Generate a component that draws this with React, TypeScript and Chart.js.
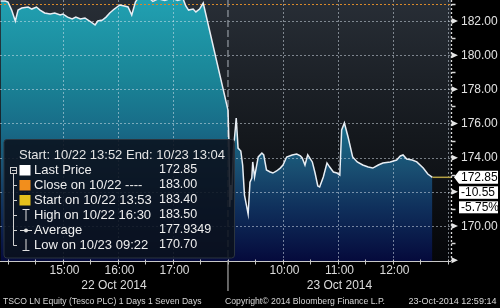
import React, { useEffect, useRef } from 'react';
import { Chart, registerables } from 'chart.js';

Chart.register(...registerables);

// ---------- data ----------
const dayOneTimes = [
  '13:52', '13:57', '14:00', '14:04', '14:08', '14:11', '14:15', '14:22', '14:26', '14:31',
  '14:35', '14:40', '14:46', '14:51', '14:57', '15:00', '15:05', '15:10', '15:14', '15:19',
  '15:24', '15:29', '15:35', '15:38', '15:43', '15:47', '15:51', '15:56', '15:59', '16:02',
  '16:07', '16:11', '16:15', '16:19', '16:22', '16:29', '16:35', '16:38', '16:44', '16:51',
  '16:59', '17:05', '17:11', '17:14', '17:17', '17:22', '17:25', '17:29', '17:33',
];
const dayOnePrices = [
  183.17, 183.17, 183.11, 182.64, 182.0, 182.64, 182.76, 182.82, 182.7, 182.82,
  182.64, 182.47, 182.41, 182.47, 182.35, 182.41, 182.23, 182.12, 182.23, 182.12,
  182.18, 182.0, 181.77, 182.0, 182.06, 182.23, 182.47, 182.7, 182.82, 182.94,
  182.88, 182.82, 182.35, 183.11, 183.35, 183.5, 183.3, 183.15, 183.3, 183.2,
  183.35, 183.2, 183.3, 182.88, 182.64, 182.7, 182.53, 182.7, 183.05,
];
const dayTwoTimes = [
  '09:00', '09:01', '09:02', '09:03', '09:04', '09:06', '09:09', '09:11', '09:14', '09:16',
  '09:18', '09:22', '09:24', '09:26', '09:27', '09:29', '09:33', '09:37', '09:39', '09:42',
  '09:46', '09:49', '09:53', '09:57', '10:00', '10:04', '10:10', '10:15', '10:19', '10:21',
  '10:24', '10:27', '10:32', '10:35', '10:38', '10:40', '10:44', '10:48', '10:51', '10:55',
  '10:59', '11:02', '11:04', '11:07', '11:11', '11:16', '11:21', '11:27', '11:33', '11:38',
  '11:44', '11:49', '11:57', '12:04', '12:08', '12:11', '12:15', '12:21', '12:26', '12:33',
  '12:38', '12:43',
];
const dayTwoPrices = [
  176.79, 175.03, 171.11, 172.4, 171.52, 174.45, 176.32, 174.56, 174.39, 173.57,
  171.81, 170.7, 172.57, 172.81, 173.75, 172.87, 174.04, 174.27, 174.16, 173.28,
  173.16, 173.1, 173.22, 173.39, 173.57, 174.04, 174.16, 174.21, 174.1, 173.98,
  173.57, 174.16, 173.75, 173.1, 172.34, 172.28, 172.87, 173.69, 173.45, 173.16,
  173.1, 172.98, 175.62, 176.03, 175.21, 174.04, 173.75, 173.57, 173.45, 173.39,
  173.57, 173.69, 173.75, 173.86, 174.1, 174.16, 173.92, 173.86, 173.75, 173.39,
  173.04, 172.85,
];

const dayOneHourLabels = ['15:00', '16:00', '17:00'];
const dayTwoHourLabels = ['10:00', '11:00', '12:00'];
const dayTwoExtraGrid = ['13:00'];
const dateLabels = ['22 Oct 2014', '23 Oct 2014'];

const yMajorTicks = [182, 180, 178, 176, 174, 172, 170, 168];
const yHiddenLabels = [172];
const yMinorTicks = [183, 181, 179, 177, 175, 173, 171, 169];

const closePrice = 183.0;
const lastPrice = 172.85;
const netChange = '-10.55';
const pctChange = '-5.75%';

const legendHeader = 'Start: 10/22 13:52 End: 10/23 13:04';
const legendLabels = [
  'Last Price',
  'Close on 10/22 ----',
  'Start on 10/22 13:53',
  'High on 10/22 16:30',
  'Average',
  'Low on 10/23 09:22',
];
const legendValues = ['172.85', '183.00', '183.40', '183.50', '177.9349', '170.70'];

const footerLeft = 'TSCO LN Equity (Tesco PLC) 1 Days 1 Seven Days';
const footerMid = 'Copyright\u00A9 2014 Bloomberg Finance L.P.';
const footerRight = '23-Oct-2014 12:59:14';

// ---------- helpers ----------
// compressed session clock: day one measured from 13:00, day two starts at 300 (09:00)
const DAY_ONE_BASE = 13 * 60;
const DAY_TWO_OFFSET = 300;
const DAY_TWO_BASE = 9 * 60;
const mins = (t: string) => {
  const [h, m] = t.split(':').map(Number);
  return h * 60 + m;
};
const xDay1 = (t: string) => mins(t) - DAY_ONE_BASE;
const xDay2 = (t: string) => DAY_TWO_OFFSET + mins(t) - DAY_TWO_BASE;

const X_MIN = 51.3;
const X_MAX = 543.3;
const Y_MIN = 167.95;
const Y_MAX = 183.23;

const FONT = '"Liberation Sans", Arial, sans-serif';

const App: React.FC = () => {
  const ref = useRef<HTMLCanvasElement | null>(null);

  useEffect(() => {
    document.body.style.margin = '0';
    document.body.style.background = '#000';
    const canvas = ref.current;
    if (!canvas) return;

    const points = [
      ...dayOneTimes.map((t, i) => ({ x: xDay1(t), y: dayOnePrices[i] })),
      ...dayTwoTimes.map((t, i) => ({ x: xDay2(t), y: dayTwoPrices[i] })),
    ];

    const dottedV = (ctx: CanvasRenderingContext2D, x: number, y0: number, y1: number) => {
      ctx.beginPath();
      ctx.moveTo(Math.round(x) + 0.5, y0);
      ctx.lineTo(Math.round(x) + 0.5, y1);
      ctx.stroke();
    };
    const dottedH = (ctx: CanvasRenderingContext2D, y: number, x0: number, x1: number) => {
      ctx.beginPath();
      ctx.moveTo(x0, Math.round(y) + 0.5);
      ctx.lineTo(x1, Math.round(y) + 0.5);
      ctx.stroke();
    };

    const plugin = {
      id: 'bbg',
      beforeDraw(chart: any) {
        const { ctx, chartArea: a } = chart;
        ctx.save();
        ctx.fillStyle = '#000';
        ctx.fillRect(0, 0, chart.width, chart.height);
        const g = ctx.createLinearGradient(0, a.top, 0, a.bottom);
        g.addColorStop(0, '#282e36');
        g.addColorStop(0.5, '#15191e');
        g.addColorStop(1, '#050609');
        ctx.fillStyle = g;
        ctx.fillRect(a.left, a.top, a.right - a.left, a.bottom - a.top);
        ctx.restore();
      },
      beforeDatasetDraw(chart: any) {
        const { ctx, chartArea: a, scales } = chart;
        const xs = scales.x;
        const ys = scales.y;
        ctx.save();
        ctx.lineWidth = 1;
        ctx.setLineDash([2, 2]);
        ctx.strokeStyle = 'rgba(220,230,240,0.5)';
        yMajorTicks.forEach((v) => {
          if (v <= Y_MIN + 0.2) return;
          dottedH(ctx, ys.getPixelForValue(v), a.left, a.right);
        });
        const vTicks = [
          ...dayOneHourLabels.map(xDay1),
          ...dayTwoHourLabels.map(xDay2),
          ...dayTwoExtraGrid.map(xDay2),
        ];
        vTicks.forEach((v) => dottedV(ctx, xs.getPixelForValue(v), a.top, a.bottom));
        // close line
        ctx.strokeStyle = '#d9892a';
        dottedH(ctx, ys.getPixelForValue(closePrice), a.left, a.right);
        // day divider
        ctx.setLineDash([7, 3]);
        ctx.strokeStyle = '#8b929a';
        ctx.lineWidth = 1.3;
        const dx = xs.getPixelForValue(DAY_TWO_OFFSET);
        ctx.beginPath();
        ctx.moveTo(dx, a.top);
        ctx.lineTo(dx, a.bottom);
        ctx.stroke();
        ctx.restore();
      },
      afterDraw(chart: any) {
        const { ctx, chartArea: a, scales } = chart;
        const xs = scales.x;
        const ys = scales.y;
        ctx.save();

        // last price line
        const last = points[points.length - 1];
        const ly = ys.getPixelForValue(lastPrice);
        ctx.strokeStyle = '#b3a045';
        ctx.lineWidth = 1.5;
        ctx.beginPath();
        ctx.moveTo(xs.getPixelForValue(last.x), ly);
        ctx.lineTo(a.right, ly);
        ctx.stroke();

        // legend box
        const bx = 4, by = 139.5, bw = 230.5, bh = 118.5;
        ctx.fillStyle = 'rgba(10,17,28,0.88)';
        ctx.strokeStyle = '#2b343e';
        ctx.lineWidth = 1;
        ctx.beginPath();
        (ctx as any).roundRect ? (ctx as any).roundRect(bx, by, bw, bh, 3) : ctx.rect(bx, by, bw, bh);
        ctx.fill();
        ctx.stroke();

        ctx.textBaseline = 'middle';
        ctx.textAlign = 'left';
        ctx.fillStyle = '#e4e4e4';
        ctx.font = `13px ${FONT}`;
        ctx.fillText(legendHeader, 19, 155);
        const rowY = (i: number) => 170 + 15 * i;
        legendLabels.forEach((l, i) => {
          ctx.fillStyle = '#eeeeee';
          ctx.font = `13px ${FONT}`;
          ctx.fillText(l, 34, rowY(i));
          ctx.font = `12.5px ${FONT}`;
          ctx.fillText(legendValues[i], 159, rowY(i));
        });
        // swatches
        const sw = ['#ffffff', '#f28e1c', '#e6c21c'];
        sw.forEach((c, i) => {
          ctx.fillStyle = c;
          ctx.fillRect(19.5, rowY(i) - 5, 11, 10.5);
        });
        // tree
        ctx.strokeStyle = '#d0d0d0';
        ctx.lineWidth = 1;
        ctx.strokeRect(10.5, 167.5, 6, 6);
        ctx.beginPath();
        ctx.moveTo(12, 170.5);
        ctx.lineTo(16, 170.5);
        ctx.moveTo(13.5, 173.5);
        ctx.lineTo(13.5, rowY(5) + 0.5);
        for (let i = 1; i < 6; i++) {
          ctx.moveTo(13.5, Math.round(rowY(i)) + 0.5);
          ctx.lineTo(17, Math.round(rowY(i)) + 0.5);
        }
        ctx.stroke();
        // high icon
        ctx.strokeStyle = '#e0e0e0';
        ctx.beginPath();
        ctx.moveTo(22.5, rowY(3) - 5.5);
        ctx.lineTo(29.5, rowY(3) - 5.5);
        ctx.moveTo(26, rowY(3) - 5.5);
        ctx.lineTo(26, rowY(3) + 6);
        // average icon
        ctx.moveTo(20, rowY(4) + 0.5);
        ctx.lineTo(32, rowY(4) + 0.5);
        // low icon
        ctx.moveTo(26, rowY(5) - 6);
        ctx.lineTo(26, rowY(5) + 5.5);
        ctx.moveTo(22.5, rowY(5) + 5.5);
        ctx.lineTo(29.5, rowY(5) + 5.5);
        ctx.stroke();
        ctx.fillStyle = '#e0e0e0';
        ctx.beginPath();
        ctx.arc(26, rowY(4) + 0.5, 2, 0, Math.PI * 2);
        ctx.fill();

        // x axis
        const axY = a.bottom + 0.5;
        ctx.strokeStyle = '#c8c8c8';
        ctx.lineWidth = 1;
        ctx.beginPath();
        ctx.moveTo(a.left, axY);
        ctx.lineTo(a.right, axY);
        const halfHours: number[] = [];
        for (let m = 14 * 60; m <= 18 * 60; m += 30) halfHours.push(m - DAY_ONE_BASE);
        for (let m = 9 * 60 + 30; m <= 13 * 60; m += 30) halfHours.push(DAY_TWO_OFFSET + m - DAY_TWO_BASE);
        halfHours.forEach((v) => {
          const px = Math.round(xs.getPixelForValue(v)) + 0.5;
          ctx.moveTo(px, axY - 2);
          ctx.lineTo(px, axY + 3);
        });
        ctx.stroke();
        // divider below axis
        const dx = xs.getPixelForValue(DAY_TWO_OFFSET);
        ctx.strokeStyle = '#9a9a9a';
        ctx.lineWidth = 1.3;
        ctx.beginPath();
        ctx.moveTo(dx, a.bottom);
        ctx.lineTo(dx, 291);
        ctx.stroke();

        ctx.fillStyle = '#dcdcdc';
        ctx.font = `12px ${FONT}`;
        ctx.textAlign = 'center';
        dayOneHourLabels.forEach((t) => ctx.fillText(t, xs.getPixelForValue(xDay1(t)) + 1.5, 271));
        dayTwoHourLabels.forEach((t) => ctx.fillText(t, xs.getPixelForValue(xDay2(t)) + 1.5, 271));
        ctx.fillText(dateLabels[0], (xs.getPixelForValue(X_MIN) + dx) / 2, 285.5);
        ctx.fillText(dateLabels[1], (dx + xs.getPixelForValue(X_MAX)) / 2, 285.5);

        // y axis
        const axX = a.right + 0.5;
        ctx.strokeStyle = '#d8d8d8';
        ctx.setLineDash([2, 2]);
        ctx.beginPath();
        ctx.moveTo(axX, a.top);
        ctx.lineTo(axX, a.bottom);
        ctx.stroke();
        ctx.setLineDash([]);
        ctx.beginPath();
        yMinorTicks.forEach((v) => {
          const py = Math.round(ys.getPixelForValue(v)) + 0.5;
          ctx.moveTo(axX, py);
          ctx.lineTo(axX + 4, py);
        });
        ctx.stroke();
        ctx.fillStyle = '#e6e6e6';
        yMajorTicks.forEach((v) => {
          const py = ys.getPixelForValue(v);
          ctx.beginPath();
          ctx.moveTo(axX, py - 3);
          ctx.lineTo(axX + 6.5, py);
          ctx.lineTo(axX, py + 3);
          ctx.closePath();
          ctx.fill();
        });
        ctx.textAlign = 'left';
        ctx.font = `12px ${FONT}`;
        ctx.fillStyle = '#e2e2e2';
        yMajorTicks.forEach((v) => {
          if (yHiddenLabels.includes(v) || v <= Y_MIN + 0.2) return;
          ctx.fillText(v.toFixed(2), 461, ys.getPixelForValue(v) + 0.5);
        });

        // last price tags
        ctx.fillStyle = '#ffffff';
        ctx.beginPath();
        ctx.moveTo(454, ly);
        ctx.lineTo(459, ly - 6.5);
        ctx.lineTo(498, ly - 6.5);
        ctx.lineTo(498, ly + 6.5);
        ctx.lineTo(459, ly + 6.5);
        ctx.closePath();
        ctx.fill();
        ctx.fillRect(459, ly + 9, 39, 12.5);
        ctx.fillRect(459, ly + 24, 39, 12);
        ctx.fillStyle = '#000';
        ctx.fillText(lastPrice.toFixed(2), 461, ly + 0.5);
        ctx.fillText(netChange, 461, ly + 15.5);
        ctx.fillText(pctChange, 461, ly + 30.5);

        // footer
        const fit = (t: string, x0: number, x1: number, y: number) => {
          ctx.font = `9.5px ${FONT}`;
          const w = ctx.measureText(t).width;
          ctx.save();
          ctx.translate(x0, y);
          ctx.scale((x1 - x0) / w, 1);
          ctx.fillText(t, 0, 0);
          ctx.restore();
        };
        ctx.fillStyle = '#d8d8d8';
        ctx.textAlign = 'left';
        fit(footerLeft, 3, 201.5, 301.5);
        fit(footerMid, 225, 385, 301.5);
        fit(footerRight, 408.5, 496.5, 301.5);

        ctx.restore();
      },
    };

    const chart = new Chart(canvas, {
      type: 'line',
      data: {
        datasets: [
          {
            data: points,
            borderColor: '#e8eef4',
            borderWidth: 1.5,
            pointRadius: 0,
            tension: 0,
            fill: 'start',
            backgroundColor: (c: any) => {
              const ch = c.chart;
              const a = ch.chartArea;
              if (!a) return 'rgba(0,0,0,0)';
              const g = ch.ctx.createLinearGradient(0, a.top, 0, a.bottom);
              g.addColorStop(0, '#21a0b1');
              g.addColorStop(0.3, '#1a8597');
              g.addColorStop(0.5, '#186a87');
              g.addColorStop(0.65, '#194e71');
              g.addColorStop(0.8, '#0f2f5b');
              g.addColorStop(1, '#050a3c');
              return g;
            },
          },
        ],
      },
      options: {
        animation: false,
        responsive: false,
        devicePixelRatio: 1,
        layout: { padding: { left: 0, top: 0, right: 49, bottom: 47 } },
        scales: {
          x: { type: 'linear', min: X_MIN, max: X_MAX, display: false },
          y: { type: 'linear', min: Y_MIN, max: Y_MAX, display: false },
        },
        plugins: {
          legend: { display: false },
          tooltip: { enabled: false },
          filler: { drawTime: 'beforeDatasetsDraw' },
        } as any,
      },
      plugins: [plugin],
    } as any);

    return () => chart.destroy();
  }, []);

  return (
    <div style={{ width: 500, height: 308, background: '#000' }}>
      <canvas ref={ref} width={500} height={308} style={{ display: 'block' }} />
    </div>
  );
};

export default App;
